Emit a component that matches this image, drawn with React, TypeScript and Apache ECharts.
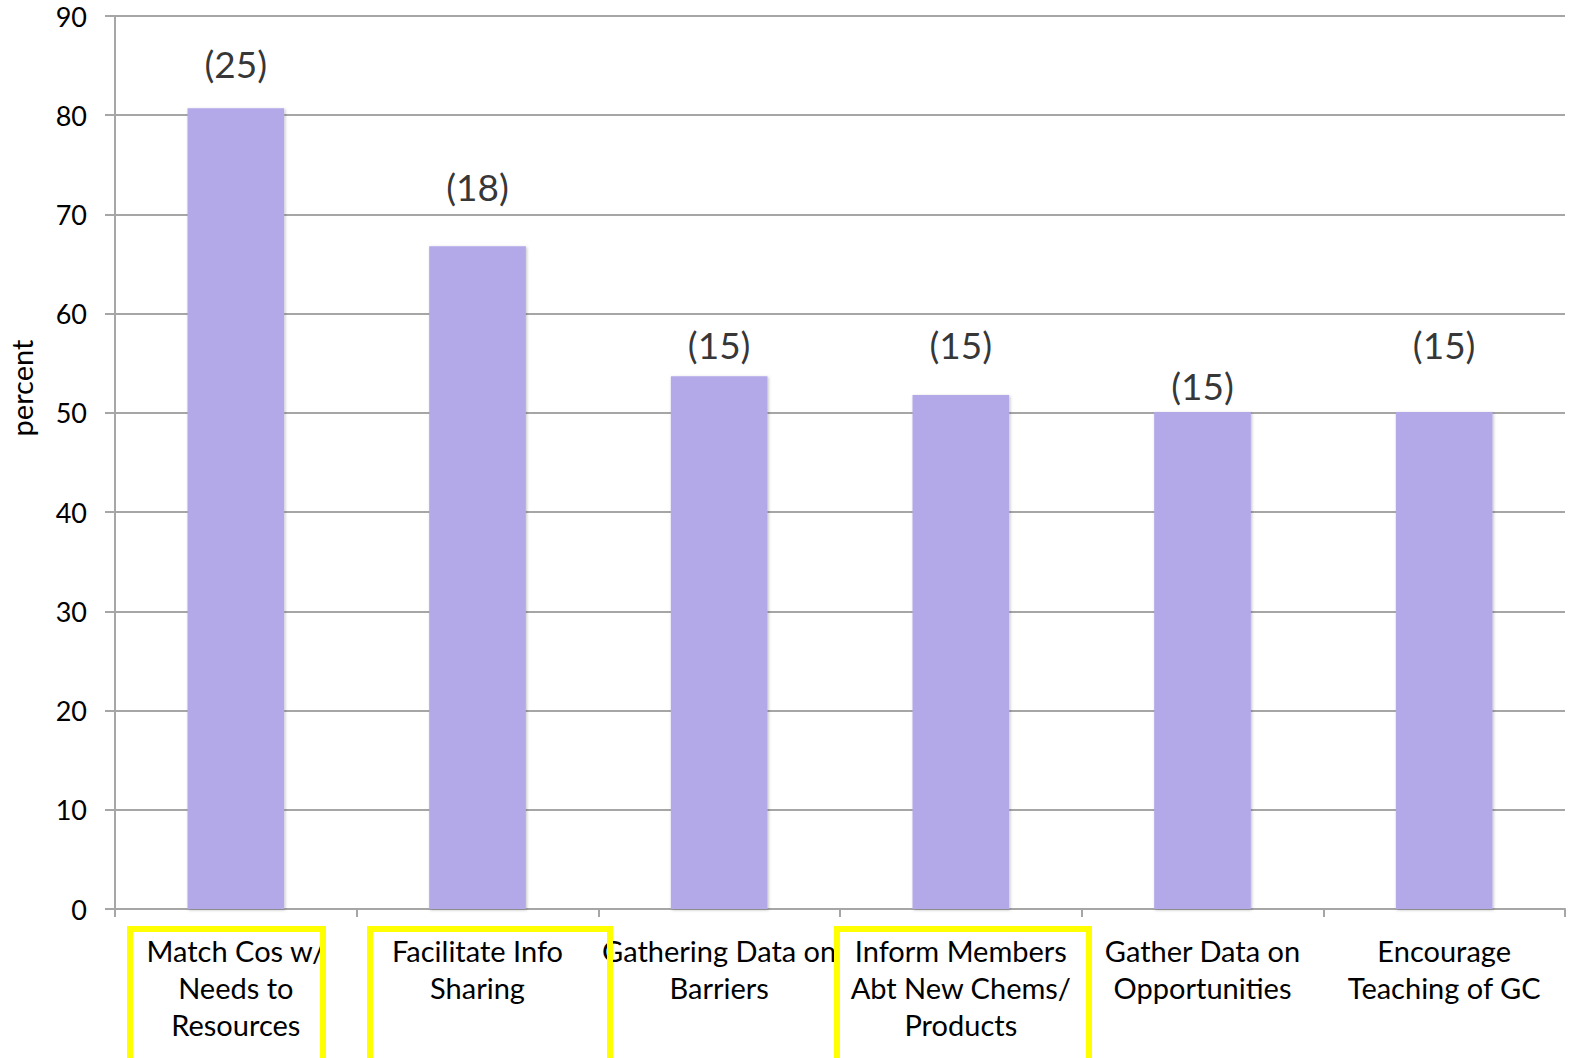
import React, { useEffect, useRef } from "react";
import * as echarts from "echarts";

const categories = [
  "Match Cos w/\nNeeds to\nResources",
  "Facilitate Info\nSharing",
  "Gathering Data on\nBarriers",
  "Inform Members\nAbt New Chems/\nProducts",
  "Gather Data on\nOpportunities",
  "Encourage\nTeaching of GC",
];
const percentValues = [80.7, 66.8, 53.7, 51.8, 50.1, 50.1];
const counts = [25, 18, 15, 15, 15, 15];
const countLabelLevels = [85.2, 72.8, 56.9, 56.9, 52.8, 56.9];
const yTicks = { min: 0, max: 90, interval: 10 };
const yAxisTitle = "percent";

const FONT = "Lato, 'Noto Sans', sans-serif";

export default function App() {
  const ref = useRef<HTMLDivElement>(null);
  useEffect(() => {
    if (!ref.current) return;
    const chart = echarts.init(ref.current, null, { renderer: "svg" });
    const boxStyle = { fill: "transparent", stroke: "#ffff00", lineWidth: 6 };
    chart.setOption({
      animation: false,
      backgroundColor: "#ffffff",
      textStyle: { fontFamily: FONT },
      grid: { left: 115, right: 6, top: 16, bottom: 149, containLabel: false },
      xAxis: {
        type: "category",
        data: categories,
        boundaryGap: true,
        axisLine: { lineStyle: { color: "#a6a6a6", width: 2 } },
        axisTick: { show: true, length: 8, lineStyle: { color: "#a6a6a6", width: 2 } },
        axisLabel: {
          interval: 0,
          color: "#000",
          fontFamily: FONT,
          fontSize: 29,
          lineHeight: 37,
          margin: 23,
        },
      },
      yAxis: {
        type: "value",
        min: yTicks.min,
        max: yTicks.max,
        interval: yTicks.interval,
        axisLine: { show: true, lineStyle: { color: "#a6a6a6", width: 2 } },
        axisTick: { show: true, length: 10, lineStyle: { color: "#a6a6a6", width: 2 } },
        axisLabel: { color: "#000", fontSize: 27, fontFamily: FONT, margin: 28 },
        splitLine: { show: true, lineStyle: { color: "#a6a6a6", width: 2 } },
      },
      series: [
        {
          type: "bar",
          data: percentValues,
          barWidth: "40%",
          itemStyle: {
            color: "#b3a9e8",
            shadowColor: "rgba(0,0,0,0.25)",
            shadowBlur: 3,
            shadowOffsetX: 1,
            shadowOffsetY: 1,
          },
          z: 3,
        },
        {
          type: "scatter",
          data: countLabelLevels.map((v, i) => [i, v]),
          symbolSize: 1,
          itemStyle: { color: "rgba(0,0,0,0)" },
          label: {
            show: true,
            position: "inside",
            formatter: (p: any) => `(${counts[p.dataIndex]})`,
            color: "#000",
            fontSize: 37,
            fontFamily: FONT,
          },
          z: 4,
        },
      ],
      graphic: [
        {
          type: "text",
          x: 21,
          y: 388,
          rotation: Math.PI / 2,
          style: {
            text: yAxisTitle,
            fill: "#000",
            font: `29px ${FONT}`,
            textAlign: "center",
            textVerticalAlign: "middle",
          },
        },
        { type: "rect", shape: { x: 130, y: 929, width: 193, height: 140 }, style: boxStyle, z: 10 },
        { type: "rect", shape: { x: 370, y: 929, width: 240, height: 140 }, style: boxStyle, z: 10 },
        { type: "rect", shape: { x: 837, y: 929, width: 252, height: 140 }, style: boxStyle, z: 10 },
      ],
    });
    return () => chart.dispose();
  }, []);
  return (
    <div
      ref={ref}
      style={{ position: "fixed", left: 0, top: 0, width: 1571, height: 1058 }}
    />
  );
}
